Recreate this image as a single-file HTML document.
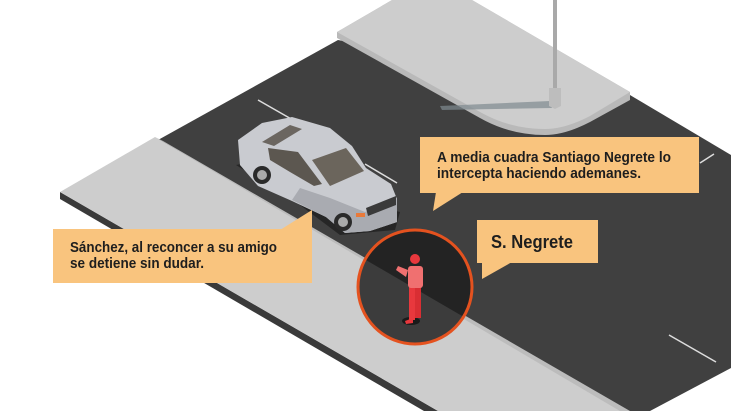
<!DOCTYPE html>
<html><head><meta charset="utf-8"><style>
html,body{margin:0;padding:0;background:#fff;}
svg{display:block;}
text{font-family:"Liberation Sans",sans-serif;font-weight:bold;fill:#1e1e1e;}
</style></head><body>
<svg width="731" height="411" viewBox="0 0 731 411" xmlns="http://www.w3.org/2000/svg">
<defs><clipPath id="cc"><circle cx="415" cy="287" r="57"/></clipPath></defs>
<rect width="731" height="411" fill="#fff"/>
<!-- road -->
<polygon points="158,140 338,40 630,95 731,155 731,368 650,411 625,411" fill="#404040"/>
<!-- lane lines -->
<line x1="258" y1="100" x2="300" y2="124" stroke="#ddd" stroke-width="1.5"/>
<line x1="365" y1="164" x2="397" y2="183" stroke="#ddd" stroke-width="1.5"/>
<line x1="700" y1="163" x2="714" y2="154" stroke="#ddd" stroke-width="1.5"/>
<line x1="669" y1="335" x2="716" y2="362" stroke="#ddd" stroke-width="1.5"/>
<!-- upper sidewalk -->
<path d="M337,38 L480,118 Q510,135 545,135 Q565,135 590,122 L630,100 L630,92 L472,0 L392,0 L337,32 Z" fill="#b9b9b9"/>
<path d="M337,32 L480,112 Q510,129 545,129 Q565,129 590,116 L630,92 L472,0 L392,0 Z" fill="#cdcdcd"/>
<!-- pole shadow & pole -->
<polygon points="440,106 550,101 552,108 442,110" fill="#7f8a90" opacity="0.7"/>
<rect x="553" y="0" width="4" height="92" fill="#a9a9a9"/>
<polygon points="549,88 561,88 561,106 555,109 549,106" fill="#bdbdbd"/>
<!-- lower sidewalk -->
<polygon points="60,192 60,199 424,411 438,411" fill="#3a3a3a"/>
<polygon points="60,192 155,137 625,411 438,411" fill="#cdcdcd"/>
<polygon points="155,137 163,141 630,411 620,411" fill="#bcbcbc"/>
<!-- car shadow -->
<polygon points="236,165 300,205 340,235 395,230 400,212 330,195 260,160" fill="#262626"/>
<!-- car -->
<polygon points="238,140 262,123 292,117 330,128 352,146 366,168 391,184 397,199 397,222 370,231 345,233 326,217 292,201 258,186 240,165" fill="#c9cbd0"/>
<polygon points="292,200 326,217 345,233 370,231 397,222 397,199 365,212 330,198 300,188" fill="#a9abb1"/>
<polygon points="262,142 290,125 302,129 274,146" fill="#6b6660"/>
<polygon points="268,148 298,152 322,184 314,186 290,172 270,160" fill="#5c5750"/>
<polygon points="312,160 346,148 364,171 330,186" fill="#6b655c"/>
<polygon points="366,208 396,196 396,205 368,216" fill="#3a3a3a"/>
<circle cx="262" cy="175" r="9" fill="#2a2a2a"/><circle cx="262" cy="175" r="5" fill="#aaa"/>
<circle cx="343" cy="222" r="9" fill="#2a2a2a"/><circle cx="343" cy="222" r="5" fill="#aaa"/>
<rect x="356" y="213" width="9" height="4" fill="#e97a3a"/>
<!-- circle highlight -->
<g clip-path="url(#cc)">
<rect x="350" y="220" width="130" height="130" fill="#232323"/>
<polygon points="155,137 625,411 438,411 60,192" fill="#3c3c3c"/>
</g>
<circle cx="415" cy="287" r="57" fill="none" stroke="#e4521f" stroke-width="3"/>
<!-- person -->
<ellipse cx="411" cy="321" rx="9" ry="4" fill="#1a1a1a"/>
<rect x="409" y="285" width="6" height="35" fill="#e8383d"/>
<rect x="415" y="285" width="6" height="33" fill="#d92e33"/>
<rect x="408" y="266" width="15" height="22" rx="3" fill="#f07070"/>
<polygon points="408,270 398,266 396,270 406,277" fill="#f07070"/>
<circle cx="415" cy="259" r="5" fill="#e8383d"/>
<polygon points="405,321 413,318 413,323 406,324" fill="#e8383d"/>
<!-- bubble 1 -->
<rect x="420" y="137" width="279" height="56" fill="#f9c47e"/>
<polygon points="436,192 463,192 433,211" fill="#f9c47e"/>
<text x="437" y="162" font-size="14.5" textLength="234" lengthAdjust="spacingAndGlyphs">A media cuadra Santiago Negrete lo</text>
<text x="437" y="178" font-size="14.5" textLength="204" lengthAdjust="spacingAndGlyphs">intercepta haciendo ademanes.</text>
<!-- bubble 2 -->
<rect x="477" y="220" width="121" height="43" fill="#f9c47e"/>
<polygon points="482,262 512,262 482,279" fill="#f9c47e"/>
<text x="491" y="248" font-size="18" textLength="82" lengthAdjust="spacingAndGlyphs">S. Negrete</text>
<!-- bubble 3 -->
<rect x="53" y="229" width="259" height="54" fill="#f9c47e"/>
<polygon points="280,230 312,230 312,210" fill="#f9c47e"/>
<text x="70" y="252" font-size="14.5" textLength="207" lengthAdjust="spacingAndGlyphs">Sánchez, al reconcer a su amigo</text>
<text x="70" y="268" font-size="14.5" textLength="134" lengthAdjust="spacingAndGlyphs">se detiene sin dudar.</text>
</svg>
</body></html>
